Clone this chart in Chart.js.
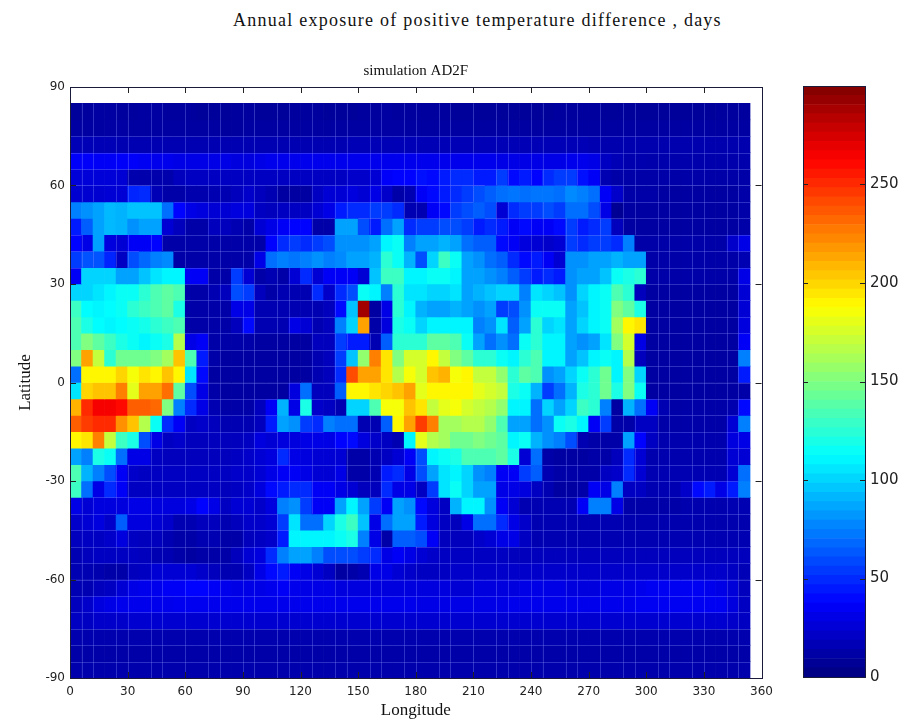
<!DOCTYPE html>
<html>
<head>
<meta charset="utf-8">
<title>Annual exposure</title>
<script src="https://cdn.jsdelivr.net/npm/chart.js@4"></script>
<style>
  body { margin: 0; background: #fff; width: 911px; height: 721px; position: relative; overflow: hidden; }
  canvas { position: absolute; }
  #mainTitle { position: absolute; left: 232px; top: 10px; width: 491px; text-align: center; white-space: nowrap;
    font: 18px "Liberation Serif", serif; color: #111; letter-spacing: 1.25px; }
</style>
</head>
<body>
<div id="mainTitle">Annual exposure of positive temperature difference , days</div>
<canvas id="map" width="780" height="721" style="left:0;top:0;width:780px;height:721px"></canvas>
<canvas id="bar" width="131" height="640" style="left:780px;top:60px;width:131px;height:640px"></canvas>
<script>
// ---------- Data ----------
const lonTicks = [0, 30, 60, 90, 120, 150, 180, 210, 240, 270, 300, 330, 360];
const latTicks = [-90, -60, -30, 0, 30, 60, 90];
const barTicks = [0, 50, 100, 150, 200, 250];
const barMax = 300;
const lonStep = 6;
const latStep = 5;
const topLat = 85;
// column edges where the original shows no pale cell line
const noSeamCols = [3, 6, 9, 11, 14, 17, 20, 22, 25, 28, 31, 34, 36, 39, 42, 45, 47, 50, 53, 56];

// days per cell, north to south, 59 columns from lon 0
const days = [
  [8,9,10,10,9,9,10,10,9,9, 9,8,8,8,9,9,8,8,8,9, 9,9,8,8,8,9,9,10,9,9, 9,9,9,8,8,8,8,8,8,8, 8,8,9,9,9,9,8,8,8,8, 8,8,8,8,8,8,9,9,9],
  [10,10,10,11,11,10,10,10,10,10, 10,10,10,9,9,10,10,10,10,10, 10,10,10,10,10,10,11,11,11,10, 10,10,10,10,10,10,10,10,10,10, 10,10,10,10,10,10,10,10,10,10, 10,10,10,10,10,10,10,10,10],
  [16,16,16,16,15,15,15,15,15,15, 15,15,15,15,15,15,15,15,15,15, 15,15,15,15,16,16,16,16,16,16, 16,16,16,16,16,16,16,16,16,16, 16,16,16,16,16,15,14,14,14,14, 14,14,14,14,14,14,14,14,14],
  [36,36,35,35,36,36,34,32,32,30, 30,30,30,30,28,28,30,32,32,32, 32,32,32,32,32,32,32,32,32,32, 32,32,32,32,32,32,32,30,30,30, 30,30,30,32,32,30,20,16,14,14, 13,13,13,13,13,13,13,13,13],
  [26,26,26,26,25,14,13,13,13,18, 20,20,20,20,20,20,20,20,20,20, 20,20,20,20,22,22,25,36,38,38, 42,40,45,50,50,45,45,55,40,45, 38,50,55,55,42,35,15,12,12,12, 12,12,12,12,12,12,12,12,12],
  [24,24,24,25,25,48,50,16,12,12, 14,14,15,15,18,22,18,15,10,10, 10,20,25,25,28,25,30,22,12,15, 35,40,45,50,55,60,65,70,72,70, 72,72,70,78,75,70,35,22,12,12, 12,10,10,10,10,10,10,10,12],
  [75,80,85,92,90,95,95,95,70,38, 30,28,25,25,28,28,20,18,20,20, 20,25,30,45,50,50,55,55,50,15, 15,35,40,55,60,65,60,25,50,55, 55,60,55,70,70,60,30,6,10,10, 10,10,10,10,10,10,10,10,12],
  [45,65,85,92,90,80,85,85,25,18, 12,12,18,18,15,12,25,30,35,38, 38,12,12,85,85,60,45,70,85,50, 55,55,60,60,55,45,50,45,35,40, 35,35,40,55,45,50,55,18,10,10, 10,10,10,10,10,10,10,10,12],
  [38,30,85,28,25,35,35,38,12,12, 12,12,12,12,12,12,12,38,50,55, 50,55,60,80,80,80,85,110,115,75, 85,85,90,85,70,65,65,40,35,28, 25,22,25,55,50,55,55,50,75,12, 12,12,12,12,12,12,12,22,30],
  [55,62,62,48,20,60,68,75,78,12, 12,12,12,12,12,12,30,70,75,72, 75,80,75,78,85,85,90,125,115,90, 60,100,130,115,85,80,70,65,50,40, 45,35,25,80,80,85,85,90,85,85, 12,12,12,12,12,12,12,12,15],
  [35,100,100,100,85,85,95,105,110,110, 35,35,12,12,55,25,12,15,12,25, 50,25,35,35,35,25,95,130,130,110, 110,115,115,110,85,85,80,75,65,55, 45,50,45,80,85,85,95,115,120,125, 12,12,12,12,12,12,12,12,30],
  [100,100,105,110,115,115,125,135,140,135, 12,12,15,18,60,55,18,12,15,15, 15,50,22,50,60,115,110,75,125,105, 105,100,100,105,85,90,95,100,100,75, 105,100,95,80,100,110,115,135,125,18, 10,10,10,10,10,10,10,10,25],
  [130,112,110,112,115,125,130,135,140,120, 12,12,12,12,30,30,15,15,15,15, 15,15,18,40,95,290,10,30,125,110, 90,85,85,90,85,80,85,55,60,80, 115,115,115,85,95,110,115,150,140,120, 10,10,10,10,10,10,10,10,25],
  [135,120,112,110,112,115,118,125,130,135, 12,12,12,12,18,40,15,15,15,30, 25,15,18,75,100,215,12,28,120,115, 100,110,110,110,110,75,80,105,65,85, 125,100,105,85,100,110,115,160,190,195, 10,10,10,10,10,10,10,10,28],
  [135,150,140,130,120,115,110,115,120,165, 30,35,12,12,12,12,10,10,10,10, 10,18,18,55,45,45,15,65,125,125, 125,140,140,135,115,85,70,80,70,115, 125,110,110,85,80,85,105,150,175,30, 10,10,10,10,10,10,10,10,35],
  [150,215,170,125,145,145,145,150,160,205, 135,45,12,10,10,10,10,10,10,10, 10,15,18,55,95,155,225,195,150,175, 175,190,170,150,140,125,125,115,110,125, 135,110,110,85,95,110,115,110,165,18, 10,10,10,10,10,10,10,10,75],
  [70,190,190,190,200,185,195,190,205,190, 105,40,10,10,10,10,10,10,10,10, 10,15,18,50,240,215,215,195,165,185, 175,205,210,185,190,170,170,155,125,140, 135,80,85,100,115,125,145,110,150,100, 10,10,10,10,10,10,10,10,45],
  [105,200,205,205,225,180,215,215,230,140, 60,30,12,10,10,10,10,10,10,28, 70,18,18,65,190,190,195,200,205,215, 180,190,190,190,190,180,175,170,120,115, 90,55,70,90,120,125,145,120,150,115, 10,10,10,10,10,10,10,10,12],
  [210,250,265,265,260,235,235,232,150,75, 50,30,15,12,12,12,18,35,90,30, 120,22,20,15,100,100,135,185,185,205, 195,170,180,185,175,170,165,155,110,110, 70,100,85,100,130,125,75,10,90,70, 35,15,12,12,12,12,12,14,40],
  [235,245,250,250,220,205,165,115,50,35, 20,22,18,15,15,15,18,45,85,80, 55,50,75,70,70,15,15,65,190,215, 245,225,160,160,165,165,155,135,85,85, 70,80,115,120,110,35,55,12,12,20, 20,12,12,12,12,12,12,25,75],
  [190,195,225,170,130,120,60,30,20,22, 18,18,18,18,18,20,28,25,28,28, 30,30,30,38,40,28,22,20,15,110, 180,165,160,145,145,150,145,140,110,115, 90,80,75,60,15,12,12,12,85,38, 20,14,14,14,14,14,14,28,30],
  [85,75,120,115,70,30,30,20,18,18, 18,18,18,18,20,22,25,28,50,30, 28,25,25,25,12,12,15,20,25,35, 60,110,115,120,135,135,135,140,120,25, 70,12,10,10,10,12,12,18,50,25, 14,14,14,14,14,14,14,25,25],
  [135,90,75,60,35,22,20,20,20,20, 20,20,20,20,22,22,25,30,35,35, 30,25,25,30,12,12,15,45,50,30, 60,85,105,110,100,80,75,35,35,55, 65,15,12,12,12,12,20,22,50,25, 15,15,15,15,15,15,15,25,70],
  [130,70,30,50,35,20,20,20,20,20, 20,20,20,18,20,22,28,40,45,50, 50,35,35,30,25,18,18,50,30,30, 20,55,105,115,100,85,85,30,30,28, 20,15,10,10,12,35,30,75,20,20, 15,15,15,22,40,45,30,45,75],
  [30,25,28,28,28,30,30,28,28,28, 30,38,30,20,25,25,22,28,75,80, 55,35,35,85,110,85,55,35,85,80, 40,28,20,90,110,110,80,35,25,15, 15,15,15,15,35,75,75,30,12,12, 12,12,12,14,14,14,14,15,15],
  [22,25,28,22,65,28,28,25,22,15, 15,18,18,15,18,22,22,25,55,105, 70,70,100,120,130,95,30,70,85,85, 45,28,20,18,30,70,70,50,30,22, 15,15,15,15,15,15,15,15,14,14, 14,14,14,14,14,14,14,14,14],
  [18,20,20,22,28,20,18,18,15,12, 12,15,15,12,12,18,20,22,45,110, 110,110,110,115,120,75,30,12,65,65, 60,35,18,18,18,22,25,30,30,20, 15,15,15,15,15,15,15,15,15,15, 15,15,15,15,15,15,15,15,15],
  [15,18,20,20,20,20,18,15,15,12, 10,12,12,12,18,25,28,50,75,85, 85,75,60,60,60,55,50,30,35,30, 25,22,20,20,20,20,20,20,18,18, 18,18,18,18,18,18,18,18,18,18, 18,18,18,18,18,18,18,18,18],
  [15,15,14,12,12,18,20,25,25,25, 25,22,18,15,15,20,30,40,45,35, 30,25,20,10,12,15,30,30,25,22, 20,20,20,22,22,22,22,22,22,22, 22,22,22,22,22,22,22,22,22,22, 22,22,22,22,22,22,22,20,16],
  [15,15,18,20,25,30,32,32,35,35, 38,38,35,32,30,30,30,32,35,32, 30,30,30,28,28,28,28,28,28,28, 28,28,28,25,25,28,28,28,28,30, 30,30,30,28,28,28,30,30,30,32, 34,34,34,34,34,32,30,26,18],
  [18,22,28,30,32,32,32,32,32,33, 33,33,32,32,32,32,32,32,32,32, 32,32,32,32,32,32,32,32,32,32, 30,30,30,30,30,30,30,30,32,32, 32,32,32,32,32,32,32,32,32,34, 34,34,34,34,34,34,34,28,20],
  [20,20,22,22,22,24,24,24,24,24, 24,24,24,24,24,24,24,24,24,24, 24,24,24,24,24,24,24,24,24,24, 24,24,24,24,24,24,24,24,24,24, 24,24,24,24,24,24,24,24,24,24, 24,24,24,24,24,24,24,22,20],
  [14,14,14,14,14,14,14,14,14,14, 14,14,14,14,14,14,14,14,14,14, 14,14,14,14,14,14,14,14,14,14, 14,14,14,14,14,14,14,14,14,14, 14,14,14,14,14,14,14,14,14,14, 14,14,14,14,14,14,14,14,14],
  [12,12,12,12,12,12,12,12,12,12, 12,12,12,12,12,12,12,12,12,12, 12,12,12,12,12,12,12,12,12,12, 12,12,12,12,12,12,12,12,12,12, 12,12,12,12,12,12,12,12,12,12, 12,12,12,12,12,12,12,12,12],
  [13,13,13,13,13,13,13,13,13,13, 13,13,13,13,13,13,13,13,13,13, 13,13,13,13,13,13,13,13,13,13, 13,13,13,13,13,13,13,13,13,13, 13,13,13,13,13,13,13,13,13,13, 13,13,13,13,13,13,13,13,13],
];

// ---------- Utility ----------
function jet(t) {
  const ch = (c) => Math.round(255 * Math.max(0, Math.min(1, 1.5 - Math.abs(4 * t - c))));
  return `rgb(${ch(3)},${ch(2)},${ch(1)})`;
}

// pale lines between the dark cells, they show up in the original
const cellSeams = {
  id: "cellSeams",
  afterDatasetsDraw(chart) {
    const { ctx, scales } = chart;
    const dark = (r, c) => days[r] && days[r][c] < 65;
    ctx.save();
    ctx.strokeStyle = "rgba(150,160,255,0.3)";
    ctx.lineWidth = 1;
    ctx.beginPath();
    days.forEach((row, r) => {
      const yTop = scales.y.getPixelForValue(topLat - r * latStep);
      const yBot = scales.y.getPixelForValue(topLat - (r + 1) * latStep);
      row.forEach((v, c) => {
        const xL = scales.x.getPixelForValue(c * lonStep);
        const xR = scales.x.getPixelForValue((c + 1) * lonStep);
        if (c > 0 && !noSeamCols.includes(c) && dark(r, c) && dark(r, c - 1)) {
          const x = Math.round(xL) + 0.5;
          ctx.moveTo(x, yTop);
          ctx.lineTo(x, yBot);
        }
        if (r > 1 && dark(r, c) && dark(r - 1, c)) {
          const y = Math.round(yTop) + 0.5;
          ctx.moveTo(xL, y);
          ctx.lineTo(xR, y);
        }
      });
    });
    ctx.stroke();
    ctx.restore();
  },
};

// inward tick marks on all four sides (matlab style)
function boxTicks(xLen, yLen, mirrorX) {
  return {
    id: "boxTicks",
    afterDatasetsDraw(chart) {
      const { ctx, chartArea: a, scales } = chart;
      ctx.save();
      ctx.strokeStyle = "#222";
      ctx.lineWidth = 1;
      ctx.beginPath();
      if (mirrorX) {
        scales.x.ticks.forEach((t) => {
          const x = Math.round(scales.x.getPixelForValue(t.value)) + 0.5;
          ctx.moveTo(x, a.top); ctx.lineTo(x, a.top + xLen);
          ctx.moveTo(x, a.bottom); ctx.lineTo(x, a.bottom - xLen);
        });
      }
      scales.y.ticks.forEach((t) => {
        const y = Math.round(scales.y.getPixelForValue(t.value)) + 0.5;
        ctx.moveTo(a.left, y); ctx.lineTo(a.left + yLen, y);
        ctx.moveTo(a.right, y); ctx.lineTo(a.right - yLen, y);
      });
      ctx.stroke();
      ctx.strokeStyle = "#1a1a3a";
      ctx.strokeRect(Math.round(a.left) + 0.5, Math.round(a.top) + 0.5, Math.round(a.width), Math.round(a.height));
      ctx.restore();
    },
  };
}

// ---------- Map ----------
const rowSets = days.map((row, r) => ({
  data: row.map((v, c) => ({
    x: c * lonStep + lonStep / 2,
    y: [topLat - (r + 1) * latStep, topLat - r * latStep],
  })),
  backgroundColor: row.map((v) => jet(v / barMax)),
  borderWidth: 0,
  grouped: false,
  barPercentage: 1,
  categoryPercentage: 1,
}));

new Chart(document.getElementById("map"), {
  type: "bar",
  data: { datasets: rowSets },
  options: {
    responsive: false,
    animation: false,
    layout: { padding: { top: 0, right: 17, left: 0, bottom: 0 } },
    plugins: {
      legend: { display: false },
      tooltip: { enabled: false },
      title: {
        display: true,
        text: "simulation AD2F",
        fullSize: false,
        font: { family: "Liberation Serif", size: 15, weight: "normal" },
        color: "#111",
        padding: { top: 62, bottom: 7 },
      },
    },
    scales: {
      x: {
        type: "linear",
        min: 0,
        max: 360,
        offset: false,
        grid: { display: false, offset: false, drawTicks: false },
        border: { display: false },
        afterBuildTicks: (s) => { s.ticks = lonTicks.map((v) => ({ value: v })); },
        afterFit: (s) => { s.height = 43; },
        ticks: { font: { family: "DejaVu Sans", size: 12 }, color: "#222", maxRotation: 0, padding: 7, autoSkip: false },
        title: { display: true, text: "Longitude", font: { family: "Liberation Serif", size: 17 }, color: "#111", padding: { top: 2, bottom: 0 } },
      },
      y: {
        min: -90,
        max: 90,
        grid: { display: false, drawTicks: false },
        border: { display: false },
        afterBuildTicks: (s) => { s.ticks = latTicks.map((v) => ({ value: v })); },
        afterFit: (s) => { s.width = 70; },
        ticks: { font: { family: "DejaVu Sans", size: 12 }, color: "#222", padding: 5, autoSkip: false },
        title: { display: true, text: "Latitude", font: { family: "Liberation Serif", size: 17 }, color: "#111", padding: { top: 15, bottom: 4 } },
      },
    },
  },
  plugins: [cellSeams, boxTicks(6, 6, true)],
});

// ---------- Colour bar ----------
const levels = Array.from({ length: 64 }, (_, i) => i);
new Chart(document.getElementById("bar"), {
  type: "bar",
  data: {
    labels: [""],
    datasets: levels.map((i) => ({
      data: [[(i * barMax) / 64, ((i + 1) * barMax) / 64]],
      backgroundColor: jet((i + 0.5) / 64),
      borderWidth: 0,
      grouped: false,
      barPercentage: 1,
      categoryPercentage: 1,
    })),
  },
  options: {
    responsive: false,
    animation: false,
    layout: { padding: { top: 26, bottom: 23, left: 23, right: 0 } },
    plugins: { legend: { display: false }, tooltip: { enabled: false } },
    scales: {
      x: { display: false },
      y: {
        position: "right",
        min: 0,
        max: barMax,
        grid: { display: false, drawTicks: false },
        border: { display: false },
        afterBuildTicks: (s) => { s.ticks = barTicks.map((v) => ({ value: v })); },
        afterFit: (s) => { s.width = 46; },
        ticks: { font: { family: "DejaVu Sans", size: 15 }, color: "#222", padding: 5, autoSkip: false },
      },
    },
  },
  plugins: [boxTicks(0, 5, false)],
});
</script>
</body>
</html>
